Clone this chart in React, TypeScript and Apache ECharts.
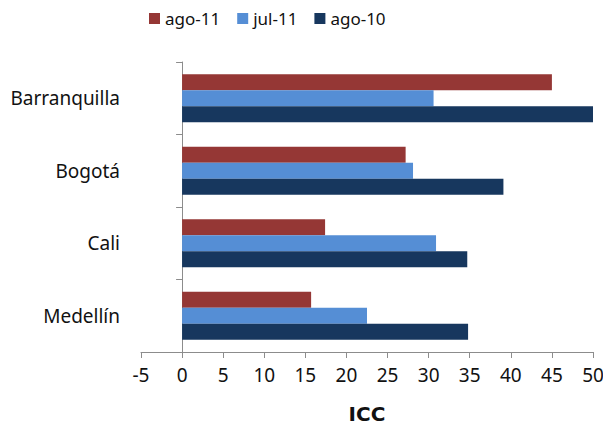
import React, { useEffect, useRef } from "react";
import * as echarts from "echarts";

const categories = ["Barranquilla", "Bogotá", "Cali", "Medellín"];
const seriesNames = ["ago-11", "jul-11", "ago-10"];
const ago11 = [45.0, 27.2, 17.4, 15.7];
const jul11 = [30.6, 28.1, 30.9, 22.5];
const ago10 = [50.3, 39.1, 34.7, 34.8];
const xTicks = { min: -5, max: 50, interval: 5 };
const axisTitle = "ICC";

const colors = ["#953735", "#558ED5", "#17375E"];
const FONT = "Noto Sans";

export default function App() {
  const ref = useRef<HTMLDivElement>(null);
  useEffect(() => {
    if (!ref.current) return;
    const chart = echarts.init(ref.current, null, { renderer: "svg" });
    const values = [ago11, jul11, ago10];
    chart.setOption({
      animation: false,
      textStyle: { fontFamily: FONT },
      legend: {
        data: seriesNames,
        left: 144,
        top: 5,
        itemWidth: 11,
        itemHeight: 11,
        itemGap: 17,
        icon: "rect",
        textStyle: { fontFamily: FONT, fontSize: 17, color: "#111" },
      },
      grid: { left: 141, right: 10, top: 62, bottom: 73, containLabel: false, outerBoundsMode: "none" },
      xAxis: {
        type: "value",
        min: xTicks.min,
        max: xTicks.max,
        interval: xTicks.interval,
        name: axisTitle,
        nameLocation: "middle",
        nameGap: 52,
        nameTextStyle: { fontFamily: "DejaVu Sans", fontSize: 20, fontWeight: "bold", color: "#111" },
        splitLine: { show: false },
        axisLine: { show: true, lineStyle: { color: "#8c8c8c", width: 1 } },
        axisTick: { show: true, length: 6, lineStyle: { color: "#8c8c8c" } },
        axisLabel: { fontFamily: FONT, fontSize: 19, color: "#111", margin: 13 },
      },
      yAxis: {
        type: "category",
        data: categories,
        inverse: true,
        axisLine: { show: true, onZero: true, lineStyle: { color: "#8c8c8c", width: 1 } },
        axisTick: { show: true, length: 6, lineStyle: { color: "#8c8c8c" } },
        axisLabel: { fontFamily: FONT, fontSize: 19, color: "#111", margin: 21 },
      },
      series: seriesNames.map((name, i) => ({
        name,
        type: "bar",
        data: values[i],
        barGap: "0%",
        barCategoryGap: "34%",
        itemStyle: { color: colors[i] },
      })),
    });
    return () => chart.dispose();
  }, []);
  return <div ref={ref} style={{ width: 603, height: 425, position: "absolute", left: 0, top: 0 }} />;
}
